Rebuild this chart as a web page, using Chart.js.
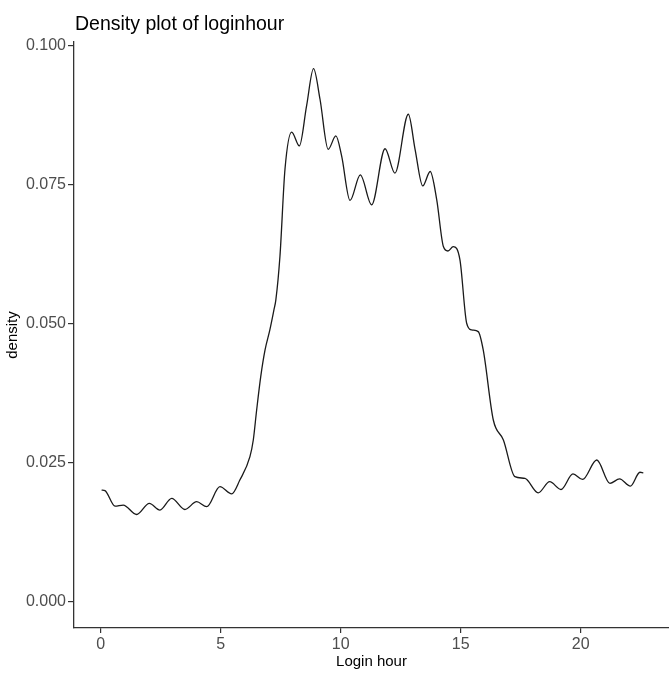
<!DOCTYPE html>
<html>
<head>
<meta charset="utf-8">
<title>Density plot of loginhour</title>
<script src="https://cdn.jsdelivr.net/npm/chart.js@4/dist/chart.umd.min.js"></script>
<style>
  html, body { margin: 0; padding: 0; background: #fff; overflow: hidden; }
  #wrap { width: 669px; height: 673px; }
</style>
</head>
<body>
<div id="wrap"><canvas id="densityChart" width="669" height="673"></canvas></div>
<script>
// values (login hour vs density)
const loginHour = [0.04, 0.18, 0.60, 0.94, 1.50, 2.03, 2.47, 2.96, 3.51, 4.00, 4.42, 4.97, 5.46, 5.80,
  6.22, 6.36, 6.50, 6.67, 6.85, 7.05, 7.22, 7.30, 7.47, 7.68, 7.96, 8.28, 8.58, 8.87, 9.14, 9.48,
  9.80, 10.04, 10.39, 10.82, 11.29, 11.85, 12.26, 12.82, 13.10, 13.42, 13.73, 14.00, 14.28, 14.47,
  14.69, 14.97, 15.25, 15.46, 15.73, 15.94, 16.36, 16.78, 17.26, 17.68, 18.23, 18.71, 19.18, 19.68,
  20.08, 20.67, 21.22, 21.62, 22.07, 22.47, 22.61];
const density = [0.0200, 0.0199, 0.0171, 0.0173, 0.0156, 0.0176, 0.0164, 0.0185, 0.0165, 0.0179, 0.0170,
  0.0206, 0.0193, 0.0218, 0.0260, 0.0290, 0.0344, 0.0404, 0.0452, 0.0488, 0.0524, 0.0542, 0.0620,
  0.0777, 0.0844, 0.0819, 0.0891, 0.0958, 0.0903, 0.0813, 0.0837, 0.0801, 0.0721, 0.0767, 0.0713,
  0.0814, 0.0770, 0.0876, 0.0813, 0.0747, 0.0773, 0.0723, 0.0638, 0.0630, 0.0638, 0.0614, 0.0500,
  0.0488, 0.0485, 0.0452, 0.0326, 0.0290, 0.0224, 0.0221, 0.0195, 0.0215, 0.0201, 0.0229, 0.0219,
  0.0254, 0.0212, 0.0220, 0.0207, 0.0232, 0.0231];

const xTicks = [0, 5, 10, 15, 20];
const yTicks = [0, 0.025, 0.05, 0.075, 0.1];

const axisColor = '#333333';
const tickTextColor = '#4d4d4d';
const fontFamily = '"Liberation Sans", Arial, sans-serif';

// ggplot-like title, left aligned with the plot panel
const panelTitle = {
  id: 'panelTitle',
  afterDraw(chart) {
    const ctx = chart.ctx;
    ctx.save();
    ctx.font = '19.5px ' + fontFamily;
    ctx.fillStyle = '#000';
    ctx.textAlign = 'left';
    ctx.textBaseline = 'middle';
    ctx.fillText('Density plot of loginhour', chart.chartArea.left + 1, 25);
    ctx.restore();
  }
};

const ctx = document.getElementById('densityChart').getContext('2d');
new Chart(ctx, {
  type: 'line',
  data: {
    datasets: [{
      label: 'density',
      data: loginHour.map((h, i) => ({ x: h, y: density[i] })),
      borderColor: '#1a1a1a',
      borderWidth: 1.3,
      pointRadius: 0,
      fill: false,
      cubicInterpolationMode: 'monotone'
    }]
  },
  options: {
    responsive: false,
    animation: false,
    layout: { padding: { top: 42, left: 0, right: 0, bottom: 0 } },
    plugins: {
      legend: { display: false },
      tooltip: { enabled: false }
    },
    scales: {
      x: {
        type: 'linear',
        min: -1.11,
        max: 23.68,
        afterFit: (s) => { s.height = 45; },
        afterBuildTicks: (s) => { s.ticks = xTicks.map(v => ({ value: v })); },
        border: { display: true, color: axisColor, width: 1.3 },
        grid: { drawOnChartArea: false, drawTicks: true, tickLength: 5, color: axisColor, lineWidth: 1.2 },
        ticks: {
          color: tickTextColor,
          font: { family: fontFamily, size: 16 },
          padding: 2,
          maxRotation: 0,
          callback: (v) => String(v)
        },
        title: {
          display: true,
          text: 'Login hour',
          color: '#000',
          font: { family: fontFamily, size: 15 },
          padding: { top: 0, bottom: 2 }
        }
      },
      y: {
        type: 'linear',
        min: -0.00482,
        max: 0.1006,
        afterFit: (s) => { s.width = 74; },
        afterBuildTicks: (s) => { s.ticks = yTicks.map(v => ({ value: v })); },
        border: { display: true, color: axisColor, width: 1.3 },
        grid: { drawOnChartArea: false, drawTicks: true, tickLength: 6, color: axisColor, lineWidth: 1.2 },
        ticks: {
          color: tickTextColor,
          font: { family: fontFamily, size: 16 },
          padding: 2,
          callback: (v) => Number(v).toFixed(3)
        },
        title: {
          display: true,
          text: 'density',
          color: '#000',
          font: { family: fontFamily, size: 15 },
          padding: { top: 4, bottom: 0 }
        }
      }
    }
  },
  plugins: [panelTitle]
});
</script>
</body>
</html>
